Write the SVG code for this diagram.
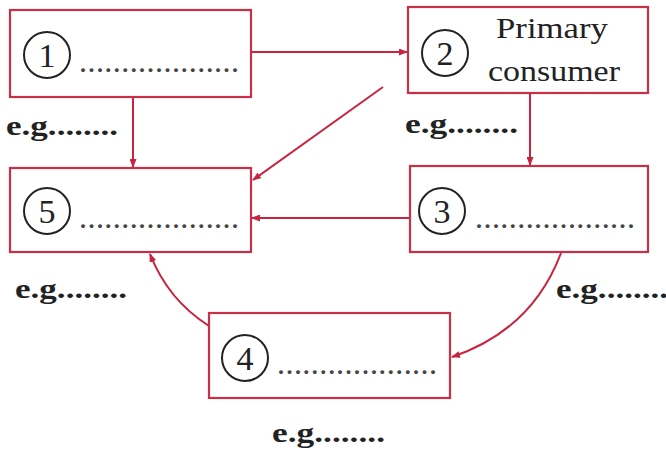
<svg xmlns="http://www.w3.org/2000/svg" width="666" height="456" viewBox="0 0 666 456">
<defs>
<marker id="ah" markerWidth="9" markerHeight="7" refX="8" refY="3.5" orient="auto" markerUnits="userSpaceOnUse">
<path d="M0,0 L9,3.5 L0,7 Z" fill="#c8243f"/>
</marker>
<style>
.box{fill:#fff;stroke:#c8304a;stroke-width:2.2}
.num{fill:none;stroke:#222;stroke-width:2}
.nt{font-family:"Liberation Serif","Times New Roman",serif;font-size:34px;fill:#222;text-anchor:middle}
.dots{font-family:"Liberation Serif","Times New Roman",serif;font-size:24px;font-weight:bold;fill:#444}
.eg{font-family:"Liberation Serif","Times New Roman",serif;font-size:27px;font-weight:bold;fill:#222}
.lab{font-family:"Liberation Serif","Times New Roman",serif;font-size:29px;fill:#222;text-anchor:middle}
.con{fill:none;stroke:#c8243f;stroke-width:2;marker-end:url(#ah)}
</style>
</defs>
<rect width="666" height="456" fill="#fff"/>
<g id="connectors">
<line class="con" x1="251" y1="52" x2="407" y2="52"/>
<line class="con" x1="133" y1="97" x2="133" y2="167"/>
<line class="con" x1="530" y1="93" x2="530" y2="165"/>
<line class="con" x1="383" y1="87" x2="253" y2="180"/>
<line class="con" x1="410" y1="218" x2="252" y2="218"/>
<path class="con" d="M561,253 Q532,330 452,357"/>
<path class="con" d="M209,326 Q168,300 150,254"/>
</g>
<g id="node1">
<rect class="box" x="10" y="10" width="241" height="87"/>
<circle class="num" cx="47" cy="55" r="23"/>
<text class="nt" x="47" y="67">1</text>
<text class="dots" x="80" y="72" textLength="158" lengthAdjust="spacing">...................</text>
</g>
<g id="node2">
<rect class="box" x="408" y="7" width="240" height="86"/>
<circle class="num" cx="445" cy="53" r="23"/>
<text class="nt" x="445" y="65">2</text>
<text class="lab" x="552" y="38" textLength="112" lengthAdjust="spacingAndGlyphs">Primary</text>
<text class="lab" x="554" y="81" textLength="132" lengthAdjust="spacingAndGlyphs">consumer</text>
</g>
<g id="node3">
<rect class="box" x="410" y="166" width="238" height="86"/>
<circle class="num" cx="442" cy="211" r="23"/>
<text class="nt" x="442" y="223">3</text>
<text class="dots" x="476" y="228" textLength="158" lengthAdjust="spacing">...................</text>
</g>
<g id="node4">
<rect class="box" x="209" y="313" width="241" height="85"/>
<circle class="num" cx="245" cy="358" r="23"/>
<text class="nt" x="245" y="370">4</text>
<text class="dots" x="278" y="374" textLength="158" lengthAdjust="spacing">...................</text>
</g>
<g id="node5">
<rect class="box" x="10" y="168" width="241" height="84"/>
<circle class="num" cx="47" cy="211" r="23"/>
<text class="nt" x="47" y="223">5</text>
<text class="dots" x="80" y="228" textLength="158" lengthAdjust="spacing">...................</text>
</g>
<g id="labels">
<text class="eg" x="6" y="135" textLength="112" lengthAdjust="spacingAndGlyphs">e.g........</text>
<text class="eg" x="405" y="133" textLength="113" lengthAdjust="spacingAndGlyphs">e.g........</text>
<text class="eg" x="15" y="298" textLength="112" lengthAdjust="spacingAndGlyphs">e.g........</text>
<text class="eg" x="556" y="298" textLength="112" lengthAdjust="spacingAndGlyphs">e.g........</text>
<text class="eg" x="272" y="442" textLength="113" lengthAdjust="spacingAndGlyphs">e.g........</text>
</g>
</svg>
